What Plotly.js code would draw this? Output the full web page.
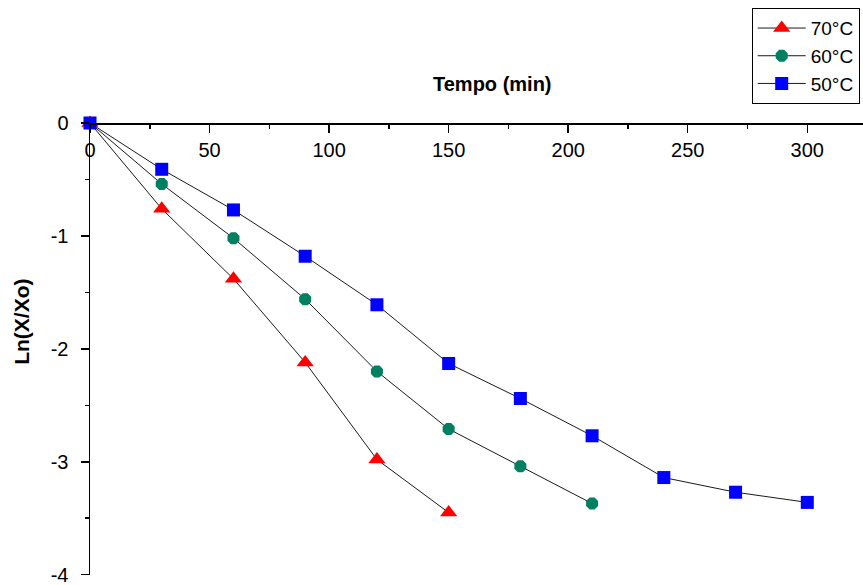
<!DOCTYPE html>
<html>
<head>
<meta charset="utf-8">
<script src="https://cdn.plot.ly/plotly-3.0.1.min.js"></script>
<style>html,body{margin:0;padding:0;background:#fff;}#chart{width:863px;height:585px;}</style>
</head>
<body>
<div id="chart"></div>
<script>
// Data
const seriesNames = ["70°C", "60°C", "50°C"];
const time70 = [0, 30, 60, 90, 120, 150];
const ln70 = [0, -0.76, -1.38, -2.12, -2.98, -3.45];
const time60 = [0, 30, 60, 90, 120, 150, 180, 210];
const ln60 = [0, -0.54, -1.02, -1.56, -2.2, -2.71, -3.04, -3.37];
const time50 = [0, 30, 60, 90, 120, 150, 180, 210, 240, 270, 300];
const ln50 = [0, -0.41, -0.77, -1.18, -1.61, -2.13, -2.44, -2.77, -3.14, -3.27, -3.36];
const xTickVals = [0, 50, 100, 150, 200, 250, 300];
const xTickText = ["0", "50", "100", "150", "200", "250", "300"];
const yTickVals = [0, -1, -2, -3, -4];
const yTickText = ["0", "-1", "-2", "-3", "-4"];
const xTitle = "Tempo (min)";
const yTitle = "Ln(X/Xo)";

const FONT = "Liberation Sans, Arial, sans-serif";
const lineStyle = {color: "#1a1a1a", width: 1};

const traces = [
  {x: time70, y: ln70, name: seriesNames[0], mode: "lines+markers", cliponaxis: false,
   line: lineStyle, marker: {symbol: "triangle-up", size: 15, color: "#ff0000"}},
  {x: time60, y: ln60, name: seriesNames[1], mode: "lines+markers", cliponaxis: false,
   line: lineStyle, marker: {symbol: "octagon", size: 13, color: "#008060"}},
  {x: time50, y: ln50, name: seriesNames[2], mode: "lines+markers", cliponaxis: false,
   line: lineStyle, marker: {symbol: "square", size: 13, color: "#0000ff"}}
];

const layout = {
  width: 863, height: 585,
  margin: {l: 90, r: 0, t: 123, b: 10},
  paper_bgcolor: "#fff", plot_bgcolor: "#fff",
  font: {family: FONT, color: "#000", size: 20},
  showlegend: true,
  legend: {x: 0.856, xanchor: "left", y: 1.254, yanchor: "top",
           bordercolor: "#000", borderwidth: 1, bgcolor: "#fff",
           itemwidth: 48,
           font: {family: FONT, size: 19, color: "#000"}, tracegroupgap: 0},
  xaxis: {range: [0, 323.3], anchor: "free", position: 1, side: "bottom",
          tickvals: xTickVals, ticktext: xTickText,
          ticks: "outside", ticklen: 8, tickwidth: 1.5, tickcolor: "#000",
          minor: {dtick: 25, tick0: 0, ticks: "outside", ticklen: 4, tickwidth: 1.5, tickcolor: "#000", showgrid: false},
          showline: true, linecolor: "#000", linewidth: 1.5,
          showgrid: false, zeroline: false,
          tickfont: {family: FONT, size: 20, color: "#000"}},
  yaxis: {range: [-4.003, 0], tickvals: yTickVals, ticktext: yTickText,
          ticks: "outside", ticklen: 8, tickwidth: 1.5, tickcolor: "#000",
          ticklabelstandoff: 8, ticklabeloverflow: "allow",
          minor: {dtick: 0.5, tick0: 0, ticks: "outside", ticklen: 4, tickwidth: 1.5, tickcolor: "#000", showgrid: false},
          showline: true, linecolor: "#000", linewidth: 1.5,
          showgrid: false, zeroline: false,
          tickfont: {family: FONT, size: 20, color: "#000"}},
  annotations: [
    {text: "<b>" + xTitle + "</b>", xref: "paper", yref: "paper", x: 0.521, y: 1.086,
     xanchor: "center", yanchor: "middle", showarrow: false,
     font: {family: FONT, size: 20, color: "#000"}},
    {text: "<b>" + yTitle + "</b>", xref: "paper", yref: "paper", x: -0.088, y: 0.56,
     xanchor: "center", yanchor: "middle", showarrow: false, textangle: -90,
     font: {family: FONT, size: 21, color: "#000"}}
  ]
};

Plotly.newPlot("chart", traces, layout, {displayModeBar: false, staticPlot: true});
</script>
</body>
</html>
